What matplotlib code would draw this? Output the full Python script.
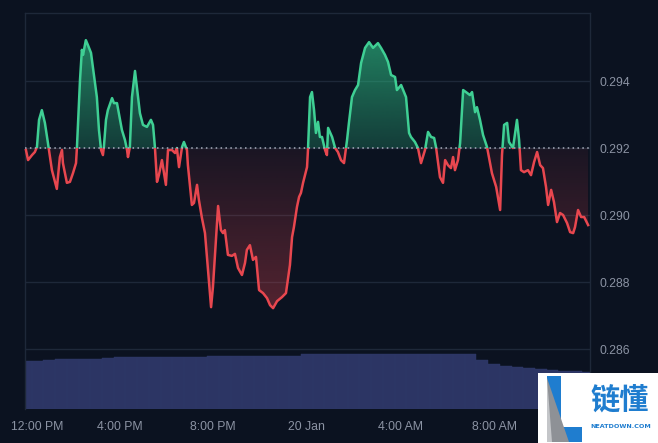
import numpy as np
import matplotlib
matplotlib.use("Agg")
import matplotlib.pyplot as plt
from matplotlib.path import Path
from matplotlib.patches import Rectangle, Polygon
from matplotlib.colors import to_rgb
from matplotlib.transforms import ScaledTranslation

# ---------------- data ----------------
# hours since 12:00 PM (19 Jan)
hours = [0.00,0.09,0.26,0.38,0.47,0.56,0.68,0.81,0.94,1.11,1.32,1.45,1.54,1.58,1.75,1.88,2.01,2.14,2.18,2.31,
         2.39,2.44,2.56,2.65,2.78,2.86,3.03,3.12,3.21,3.29,3.33,3.42,3.50,3.68,3.76,3.89,3.97,4.10,4.23,4.32,
         4.36,4.44,4.53,4.66,4.74,4.87,5.00,5.17,5.34,5.43,5.51,5.60,5.68,5.81,5.90,5.98,6.07,6.24,6.37,6.45,
         6.54,6.67,6.75,6.88,6.92,7.09,7.18,7.31,7.39,7.52,7.65,7.78,7.91,7.99,8.12,8.21,8.33,8.42,8.50,8.63,
         8.80,8.93,9.06,9.23,9.36,9.44,9.57,9.70,9.83,9.96,10.13,10.30,10.43,10.56,10.73,10.94,11.11,11.28,11.37,11.45,
         11.58,11.67,11.75,11.84,12.01,12.05,12.14,12.22,12.31,12.39,12.48,12.56,12.65,12.78,12.86,12.91,13.08,13.21,13.33,13.46,
         13.59,13.72,13.80,13.93,14.06,14.19,14.32,14.49,14.66,14.83,15.04,15.17,15.34,15.47,15.60,15.77,15.85,16.03,16.15,16.24,
         16.37,16.45,16.62,16.75,16.88,17.05,17.18,17.31,17.44,17.52,17.69,17.82,17.91,18.03,18.16,18.25,18.33,18.46,18.55,18.68,
         18.80,18.97,19.06,19.19,19.27,19.40,19.53,19.70,19.91,20.09,20.26,20.34,20.43,20.56,20.64,20.81,20.98,21.07,21.15,21.28,
         21.45,21.58,21.71,21.84,21.97,22.09,22.22,22.31,22.44,22.56,22.69,22.82,22.95,23.12,23.25,23.38,23.46,23.59,23.72,23.85,
         24.02]
prices = [0.29194,0.29164,0.29179,0.29188,0.29203,0.29284,0.29313,0.29275,0.29215,0.29134,0.29078,0.29173,0.29194,0.29155,0.29096,0.29099,0.29125,0.29155,0.29203,0.29403,
          0.29493,0.29478,0.29522,0.29507,0.29484,0.29442,0.29352,0.29254,0.29194,0.29179,0.29203,0.29284,0.29313,0.29349,0.29334,0.29334,0.29304,0.29254,0.29224,0.29194,
          0.29173,0.29203,0.29352,0.29430,0.29382,0.29304,0.29269,0.29263,0.29284,0.29269,0.29203,0.29099,0.29119,0.29164,0.29125,0.29090,0.29194,0.29194,0.29185,0.29200,
          0.29143,0.29203,0.29218,0.29194,0.29149,0.29030,0.29036,0.29090,0.29045,0.28991,0.28946,0.28836,0.28725,0.28785,0.28925,0.29027,0.28955,0.28946,0.28955,0.28881,
          0.28878,0.28884,0.28842,0.28821,0.28857,0.28896,0.28910,0.28866,0.28875,0.28776,0.28767,0.28752,0.28731,0.28722,0.28743,0.28755,0.28767,0.28851,0.28934,0.28964,
          0.29024,0.29054,0.29066,0.29096,0.29143,0.29194,0.29352,0.29367,0.29313,0.29245,0.29278,0.29233,0.29233,0.29194,0.29179,0.29260,0.29233,0.29200,0.29188,0.29164,
          0.29155,0.29224,0.29275,0.29352,0.29373,0.29388,0.29454,0.29499,0.29516,0.29499,0.29513,0.29499,0.29478,0.29457,0.29418,0.29412,0.29373,0.29388,0.29367,0.29352,
          0.29245,0.29233,0.29218,0.29200,0.29155,0.29194,0.29248,0.29233,0.29230,0.29203,0.29113,0.29096,0.29164,0.29149,0.29140,0.29173,0.29134,0.29164,0.29215,0.29373,
          0.29367,0.29358,0.29367,0.29307,0.29322,0.29284,0.29239,0.29203,0.29125,0.29084,0.29015,0.29179,0.29269,0.29275,0.29218,0.29200,0.29284,0.29224,0.29134,0.29128,
          0.29134,0.29119,0.29158,0.29188,0.29149,0.29140,0.29084,0.29030,0.29075,0.29039,0.28979,0.29006,0.29000,0.28976,0.28949,0.28946,0.28964,0.29015,0.28994,0.28994,
          0.28970]
baseline_price = 0.292

vol_hours = [0.0,0.5,1.0,1.5,2.0,2.5,3.0,3.5,4.0,4.5,5.0,5.5,6.0,6.5,7.0,7.5,8.0,8.5,9.0,9.5,
             10.0,10.5,11.0,11.5,12.0,12.5,13.0,13.5,14.0,14.5,15.0,15.5,16.0,16.5,17.0,17.5,18.0,18.5,19.0,19.5,
             20.0,20.5,21.0,21.5,22.0,22.5,23.0,23.5,24.0]
volume = [48,48,49,50,50,50,50.5,51.5,52,52,52,52,52,52,52,52.5,53,53,53,53,
          53,53,53,53.5,55,55,55,55,55,55,55,55,55,55,55,55,55,55,55,49,
          45,43,42,41,40,39,38.5,38,37.5]

x_ticks = [0, 4, 8, 12, 16, 20]
x_labels = ["12:00 PM", "4:00 PM", "8:00 PM", "20 Jan", "4:00 AM", "8:00 AM"]
y_ticks = [0.286, 0.288, 0.290, 0.292, 0.294]

# ---------------- style ----------------
BG = "#0b1220"
GRID = "#1e2839"
TXT = "#8b93a3"
GREEN = "#3fcf94"
RED = "#e8474f"
VOLC = "#2c3564"
FONT = "Liberation Sans"

h = np.array(hours)
p = np.array(prices)

fig = plt.figure(figsize=(6.58, 4.43), dpi=100, facecolor=BG)
pos = [25/658, 34/443, 565/658, 396/443]
ax_vol = fig.add_axes(pos)
ax = fig.add_axes(pos)

xlim = (-0.04, 24.10)

# volume
ax_vol.set_facecolor(BG)
ax_vol.bar(vol_hours, volume, width=0.5, color=VOLC, edgecolor="#303a69", linewidth=0.3)
ax_vol.set_xlim(*xlim)
ax_vol.set_ylim(0, 396)
ax_vol.set_xticks([]); ax_vol.set_yticks([])
for s in ax_vol.spines.values():
    s.set_visible(False)

# main
ax.patch.set_visible(False)
ax.set_xlim(*xlim)
ax.set_ylim(0.28421, 0.29603)

def grad_fill(where, color, y_lo, y_hi, a_lo, a_hi):
    coll = ax.fill_between(h, p, baseline_price, where=where, interpolate=True,
                           facecolor="none", edgecolor="none")
    path = Path.make_compound_path(*coll.get_paths())
    img = np.zeros((256, 1, 4))
    img[:, :, :3] = to_rgb(color)
    img[:, 0, 3] = np.linspace(a_lo, a_hi, 256)
    im = ax.imshow(img, extent=[xlim[0], xlim[1], y_lo, y_hi], origin="lower",
                   aspect="auto", zorder=2, interpolation="bilinear")
    im.set_clip_path(path, ax.transData)

grad_fill(p >= baseline_price, "#2fc488", baseline_price, p.max(), 0.24, 0.62)
grad_fill(p <= baseline_price, "#e0454f", p.min(), baseline_price, 0.34, 0.07)

ax.set_xlim(*xlim)
ax.set_ylim(0.28421, 0.29603)

line_g, = ax.plot(h, p, color=GREEN, lw=1.8, zorder=4, solid_joinstyle="round")
line_r, = ax.plot(h, p, color=RED, lw=1.8, zorder=4, solid_joinstyle="round")
clip_up = Rectangle((-5, baseline_price), 40, 1, transform=ax.transData)
clip_dn = Rectangle((-5, baseline_price - 1), 40, 1, transform=ax.transData)
line_g.set_clip_path(clip_up)
line_r.set_clip_path(clip_dn)

ax.axhline(baseline_price, color="#a8afbd", lw=1.1, linestyle=(0, (1, 2.2)), zorder=5)

ax.set_yticks(y_ticks)
ax.set_yticklabels([f"{v:.3f}" for v in y_ticks])
ax.yaxis.grid(True, color=GRID, lw=1)
ax.set_axisbelow(True)
ax.tick_params(axis="y", left=False, right=False, labelleft=False, labelright=True,
               length=0, pad=7, labelcolor=TXT, labelsize=8.8)
ax.set_xticks(x_ticks)
ax.set_xticklabels(x_labels)
ax.tick_params(axis="x", length=0, pad=8.5, labelcolor=TXT, labelsize=8.8)
for lab in ax.get_xticklabels() + ax.get_yticklabels():
    lab.set_fontfamily(FONT)
first = ax.get_xticklabels()[0]
first.set_transform(first.get_transform() + ScaledTranslation(0.11, 0, fig.dpi_scale_trans))

for side in ["top", "right", "left"]:
    ax.spines[side].set_color(GRID)
    ax.spines[side].set_linewidth(1)
ax.spines["bottom"].set_visible(False)

# ---------------- watermark ----------------
wm = fig.add_axes([0, 0, 1, 1])
wm.set_xlim(0, 658); wm.set_ylim(443, 0)
wm.axis("off"); wm.patch.set_visible(False)
wm.add_patch(Rectangle((538, 373), 120, 70, facecolor="white", edgecolor="none"))
wm.add_patch(Polygon([(547, 376), (561, 376), (561, 427), (582, 427), (582, 442), (547, 442)],
                     closed=True, facecolor="#1f7dcf", edgecolor="none"))
wm.add_patch(Polygon([(547, 378), (547, 442), (569, 442)], closed=True,
                     facecolor="#8e9196", edgecolor="none"))
wm.add_patch(Polygon([(547, 378), (547, 442), (552, 442)], closed=True,
                     facecolor="#c4c6c9", edgecolor="none"))
wm.text(619.5, 400, "链懂", family=["Noto Sans CJK SC", "DejaVu Sans"], fontsize=21,
        fontweight="bold", color="#1f7dcf", ha="center", va="center")
wm.text(620.5, 426, "NEATDOWN.COM", family=["DejaVu Sans"], fontsize=4.6,
        fontweight="bold", color="#1f7dcf", ha="center", va="center")

fig.savefig("out.png", dpi=100, facecolor=BG)
